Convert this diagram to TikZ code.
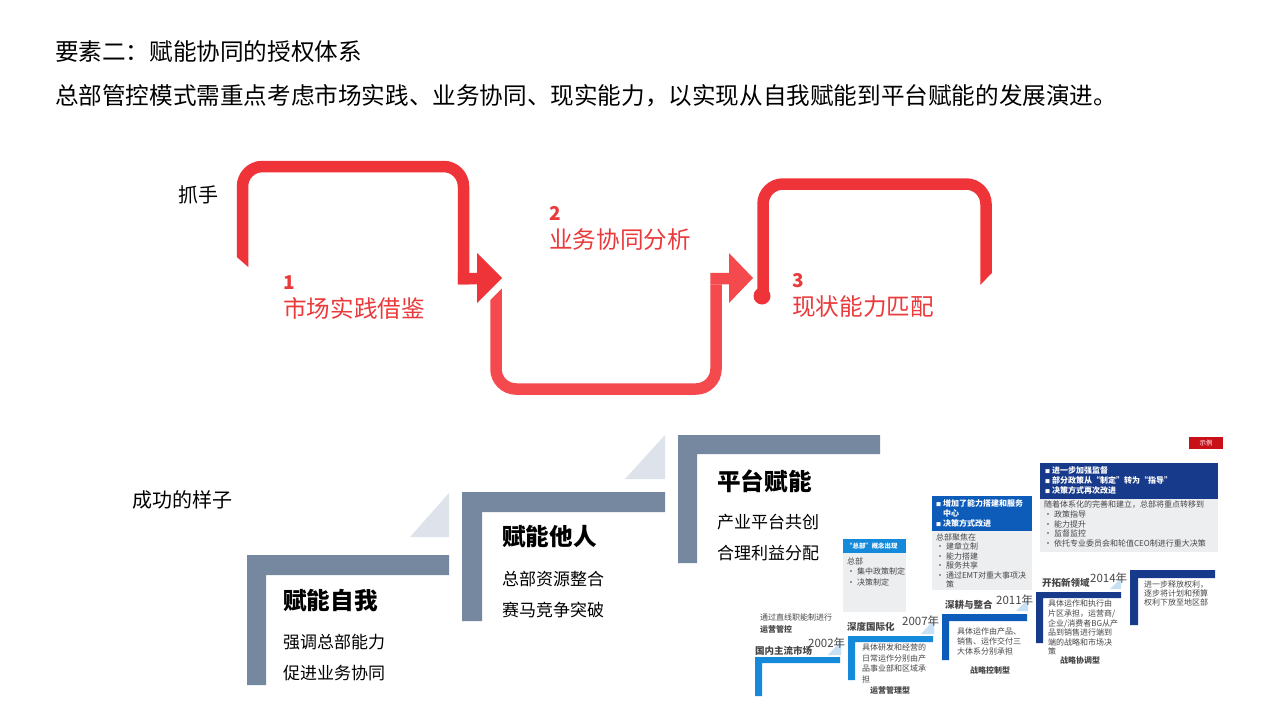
\documentclass[tikz,border=0pt]{standalone}
\usepackage{fontspec}
\setmainfont{Noto Sans CJK SC}
\usetikzlibrary{positioning}
\definecolor{redA}{RGB}{238,52,56}
\definecolor{redB}{RGB}{245,74,77}
\definecolor{redT}{RGB}{234,58,60}
\definecolor{stepgray}{RGB}{118,136,160}
\definecolor{trigray}{RGB}{222,227,235}
\definecolor{blueA}{RGB}{22,138,218}
\definecolor{blueB}{RGB}{14,92,186}
\definecolor{navy}{RGB}{24,58,138}
\definecolor{boxgray}{RGB}{237,238,240}
\definecolor{triblue}{RGB}{200,224,244}
\definecolor{tagred}{RGB}{200,16,24}
\definecolor{txtgray}{RGB}{70,70,70}

\begin{document}
\begin{tikzpicture}[x=1pt,y=-1pt,
  hd/.style={anchor=west,inner sep=0pt,font=\fontsize{23.6}{28}\selectfont},
  side/.style={anchor=west,inner sep=0pt,font=\fontsize{20}{24}\selectfont},
  num/.style={anchor=west,inner sep=0pt,text=redT,font=\fontsize{19}{22}\selectfont\bfseries},
  lbl/.style={anchor=west,inner sep=0pt,text=redT,font=\fontsize{23.6}{28}\selectfont},
  ttl/.style={anchor=west,inner sep=0pt,font=\fontsize{23.6}{28}\selectfont\bfseries},
  sub/.style={anchor=west,inner sep=0pt,font=\fontsize{17}{20}\selectfont},
  note/.style={anchor=north west,inner sep=0pt,align=left,text=txtgray,font=\fontsize{8}{#1}\selectfont},
  boxnote/.style={anchor=north west,inner sep=0pt,align=left,text=white,font=\fontsize{8}{#1}\selectfont\bfseries},
  key/.style={anchor=west,inner sep=0pt,text=txtgray,font=\fontsize{9.5}{11}\selectfont\bfseries},
  yr/.style={anchor=west,inner sep=0pt,text=txtgray,font=\fontsize{11.5}{13}\selectfont},
  kind/.style={anchor=west,inner sep=0pt,text=txtgray,font=\fontsize{8}{10}\selectfont\bfseries},
  redline/.style={line width=11.5pt,rounded corners=20pt}]
\useasboundingbox (0,0) rectangle (1280,720);
\fill[white] (0,0) rectangle (1280,720);

\node[hd] at (55,52)(title){要素二：赋能协同的授权体系};
\node[hd] at (55,96)(intro){总部管控模式需重点考虑市场实践、业务协同、现实能力，以实现从自我赋能到平台赋能的发展演进。};
\node[side] at (178,195)(grip){抓手};
\node[side] at (132,500)(goal){成功的样子};

% red path
\draw[redA,redline] (242.5,257) -- (242.5,166.5) -- (463.5,166.5) -- (463.5,284.25);
\fill[redA] (236.75,257) -- (248.25,257) -- (248.25,267) -- cycle;
\fill[redA] (457.75,272.75) -- (477,272.75) -- (477,253) -- (502,278) -- (477,303) -- (477,284.25) -- (457.75,284.25) -- cycle;
\draw[redB,redline] (496,300) -- (496,389) -- (716,389) -- (716,284.25);
\fill[redB] (490.25,300) -- (501.75,300) -- (501.75,288.5) -- cycle;
\fill[redB] (710.25,272.75) -- (729,272.75) -- (729,253) -- (753,278) -- (729,303) -- (729,284.25) -- (710.25,284.25) -- cycle;
\draw[redA,redline] (763,296) -- (763,184) -- (986,184) -- (986,273);
\fill[redA] (980.25,273) -- (991.75,273) -- (980.25,285) -- cycle;
\fill[redA] (762,296) circle (8.5);

\node[num] at (283,283)(n1){1};
\node[lbl] at (283,308)(l1){市场实践借鉴};
\node[num] at (549,213)(n2){2};
\node[lbl] at (549,240)(l2){业务协同分析};
\node[num] at (792,281)(n3){3};
\node[lbl] at (792,307)(l3){现状能力匹配};

% staircase
\fill[trigray] (410,537) -- (449,537) -- (449,493) -- cycle;
\fill[trigray] (625,479) -- (665,479) -- (665,435) -- cycle;
\fill[stepgray] (247,555) -- (449,555) -- (449,575) -- (266,575) -- (266,685) -- (247,685) -- cycle;
\fill[stepgray] (462,492) -- (665,492) -- (665,512) -- (482,512) -- (482,621) -- (462,621) -- cycle;
\fill[stepgray] (678,435) -- (880,435) -- (880,454) -- (697,454) -- (697,563) -- (678,563) -- cycle;

\node[ttl] at (283,601)(s1){赋能自我};
\node[sub] at (283,642)(s1a){强调总部能力};
\node[sub] at (283,673)(s1b){促进业务协同};
\node[ttl] at (502,537)(s2){赋能他人};
\node[sub] at (502,579)(s2a){总部资源整合};
\node[sub] at (502,610)(s2b){赛马竞争突破};
\node[ttl] at (717,481)(s3){平台赋能};
\node[sub] at (717,522)(s3a){产业平台共创};
\node[sub] at (717,553)(s3b){合理利益分配};

% example timeline
\fill[tagred] (1189,437) rectangle (1223,449);
\node[inner sep=0pt,text=white,font=\fontsize{6.5}{7}\selectfont] at (1206,443)(tag){示例};

\fill[triblue] (828,655) -- (841,655) -- (841,641) -- cycle;
\fill[triblue] (921,634) -- (934,634) -- (934,620) -- cycle;
\fill[triblue] (1016,611) -- (1028,611) -- (1028,599) -- cycle;
\fill[triblue] (1110,589) -- (1121,589) -- (1121,578) -- cycle;

\fill[blueA] (755,657) -- (840,657) -- (840,663) -- (762,663) -- (762,696) -- (755,696) -- cycle;
\fill[blueA] (848,636) -- (933,636) -- (933,642) -- (855,642) -- (855,680) -- (848,680) -- cycle;
\fill[blueB] (942,614) -- (1027,614) -- (1027,621) -- (949,621) -- (949,660) -- (942,660) -- cycle;
\fill[navy] (1036,592) -- (1121,592) -- (1121,598) -- (1043,598) -- (1043,643) -- (1036,643) -- cycle;
\fill[navy] (1130,570) -- (1215,570) -- (1215,578) -- (1138,578) -- (1138,625) -- (1130,625) -- cycle;

\node[note=10] at (760,614)(d1a){通过直线职能制进行};
\node[kind] at (760,629)(d1b){运营管控};
\node[yr] at (808,643)(y1){2002年};
\node[key] at (755,651)(k1){国内主流市场};

\node[key] at (847,627)(k2){深度国际化};
\node[yr] at (902,621)(y2){2007年};
\node[note=10.5] at (862,644)(d2){具体研发和经营的\\日常运作分别由产\\品事业部和区域承\\担};
\node[kind] at (870,690)(m2){运营管理型};

\node[key] at (945,605)(k3){深耕与整合};
\node[yr] at (996,600)(y3){2011年};
\node[note=10] at (957,628)(d3){具体运作由产品、\\销售、运作交付三\\大体系分别承担};
\node[kind] at (970,670)(m3){战略控制型};

\node[key] at (1042,583)(k4){开拓新领域};
\node[yr] at (1090,578)(y4){2014年};
\node[note=9.6] at (1048,600)(d4){具体运作和执行由\\片区承担，运营商/\\企业/消费者BG从产\\品到销售进行端到\\端的战略和市场决\\策};
\node[kind] at (1060,660)(m4){战略协调型};
\node[note=8.7] at (1144,581)(d5){进一步释放权利，\\逐步将计划和预算\\权利下放至地区部};

\fill[blueA] (843,539) rectangle (906,553);
\fill[boxgray] (843,553) rectangle (906,612);
\node[anchor=west,inner sep=0pt,text=white,font=\fontsize{6.4}{8}\selectfont\bfseries] at (846,546)(b1h){“总部”概念出现};
\node[note=10.5] at (847,557.5)(b1){总部\\• 集中政策制定\\• 决策制定};

\fill[blueB] (932,496) rectangle (1032,531);
\fill[boxgray] (932,531) rectangle (1032,590);
\node[boxnote=10] at (936,499)(b2h){{\fontsize{5}{5}\selectfont■} 增加了能力搭建和服务\\\hphantom{{\fontsize{5}{5}\selectfont■} }中心\\{\fontsize{5}{5}\selectfont■} 决策方式改进};
\node[note=9.5] at (936,533.5)(b2){总部聚焦在\\• 建章立制\\• 能力搭建\\• 服务共享\\• 通过EMT对重大事项决\\\hphantom{• }策};

\fill[navy] (1040,463) rectangle (1218,499);
\fill[boxgray] (1040,499) rectangle (1218,552);
\node[boxnote=10] at (1045,466)(b3h){{\fontsize{5}{5}\selectfont■} 进一步加强监督\\{\fontsize{5}{5}\selectfont■} 部分政策从“制定”转为“指导”\\{\fontsize{5}{5}\selectfont■} 决策方式再次改进};
\node[note=9.8] at (1044,500.5)(b3){随着体系化的完善和建立，总部将重点转移到\\• 政策指导\\• 能力提升\\• 监督监控\\• 依托专业委员会和轮值CEO制进行重大决策};
\end{tikzpicture}
\end{document}
